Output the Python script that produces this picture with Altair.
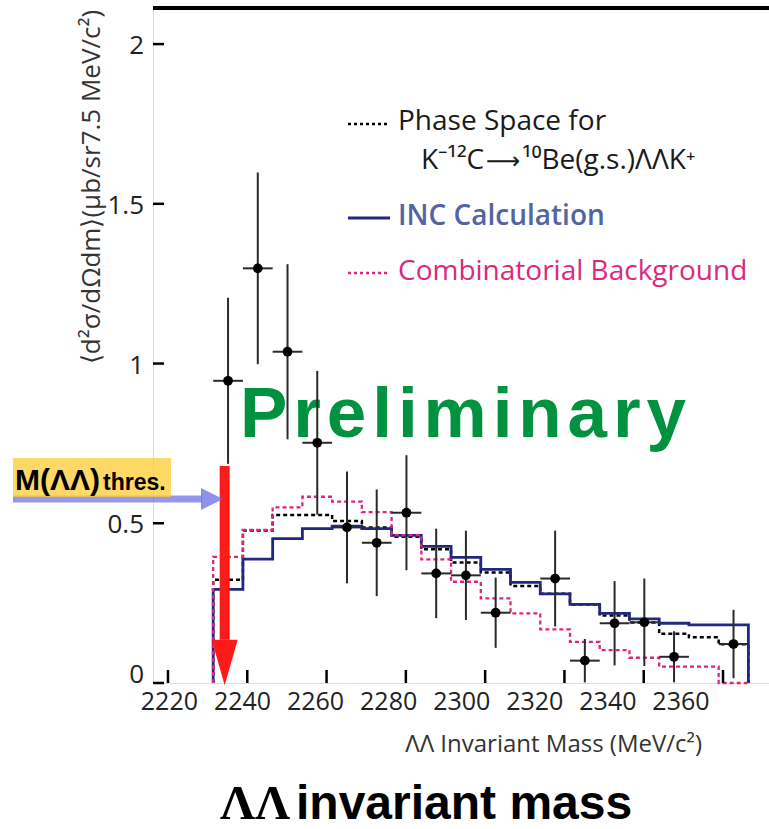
import altair as alt
import pandas as pd

# ---------------- data ----------------
bin_edges = [2231.4, 2238.9, 2246.4, 2253.9, 2261.4, 2268.9, 2276.4, 2283.9, 2291.4,
             2298.9, 2306.4, 2313.9, 2321.4, 2328.9, 2336.4, 2343.9, 2351.4, 2358.9, 2366.4]
inc_calc = [0.293, 0.388, 0.452, 0.483, 0.491, 0.483, 0.462, 0.428, 0.393,
            0.356, 0.315, 0.279, 0.246, 0.218, 0.201, 0.187, 0.182, 0.182]
phase_space = [0.323, 0.477, 0.526, 0.526, 0.507, 0.487, 0.458, 0.419, 0.377,
               0.346, 0.304, 0.279, 0.246, 0.211, 0.189, 0.154, 0.143, 0.121]
comb_bkg = [0.395, 0.479, 0.550, 0.583, 0.568, 0.535, 0.463, 0.387, 0.317,
            0.265, 0.218, 0.168, 0.129, 0.103, 0.079, 0.051, 0.051, 0.0]

pt_mass = [2235.15, 2242.65, 2250.15, 2257.65, 2265.15, 2272.65, 2280.15, 2287.65,
           2295.15, 2302.65, 2317.65, 2325.15, 2332.65, 2340.15, 2347.65, 2362.65]
pt_xsec = [0.946, 1.298, 1.037, 0.752, 0.487, 0.439, 0.533, 0.343,
           0.337, 0.220, 0.327, 0.070, 0.187, 0.190, 0.082, 0.122]
pt_err = [0.26, 0.30, 0.274, 0.225, 0.175, 0.167, 0.18, 0.14,
          0.14, 0.11, 0.15, 0.068, 0.132, 0.137, 0.08, 0.107]
x_half_width = 3.75

x_ticks = [2220, 2240, 2260, 2280, 2300, 2320, 2340, 2360]
y_ticks = [0, 0.5, 1, 1.5, 2]
threshold_mass = 2234.3
arrow_top, arrow_head = 0.679, 0.135

W, H = 616, 675
XS = alt.Scale(domain=[2216.22, 2371.6], nice=False, zero=False)
YS = alt.Scale(domain=[0, 2.113], nice=False, zero=True)
SANS = "Open Sans"


def step_frame(values):
    xs, ys = [bin_edges[0]], [0.0]
    for i, v in enumerate(values):
        xs += [bin_edges[i], bin_edges[i + 1]]
        ys += [v, v]
    xs.append(bin_edges[-1])
    ys.append(0.0)
    return pd.DataFrame({"m": xs, "v": ys, "o": list(range(len(xs)))})


def X(field, **kw):
    return alt.X(field, scale=XS, title=None, **kw)


def Y(field, **kw):
    return alt.Y(field, scale=YS, title=None, **kw)


one = pd.DataFrame({"k": [0]})


def label(text, x, y, size, color="#1a1a1a", font=SANS, weight="normal", align="left",
          baseline="middle", angle=0):
    return alt.Chart(one).mark_text(
        text=text, font=font, fontSize=size, fontWeight=weight, color=color,
        align=align, baseline=baseline, angle=angle).encode(x=alt.value(x), y=alt.value(y))


# ---------------- histograms ----------------
black = alt.Chart(step_frame(phase_space)).mark_line(
    color="black", strokeWidth=2.5, strokeDash=[4, 3]
).encode(
    x=X("m:Q", axis=alt.Axis(labels=False, ticks=False, grid=False, domainWidth=4,
                             domainColor="black")),
    y=Y("v:Q", axis=alt.Axis(labels=False, ticks=False, grid=False,
                             domainWidth=5, domainColor="black")),
    order="o:Q",
)
blue = alt.Chart(step_frame(inc_calc)).mark_line(color="#22287f", strokeWidth=2.8).encode(
    x=X("m:Q", axis=None), y=Y("v:Q", axis=None), order="o:Q")
pink = alt.Chart(step_frame(comb_bkg)).mark_line(
    color="#e0257f", strokeWidth=2.3, strokeDash=[4, 3]).encode(
    x=X("m:Q", axis=None), y=Y("v:Q", axis=None), order="o:Q")

# ---------------- inward ticks, top frame, tick labels ----------------
xt = pd.DataFrame({"tick": x_ticks})
yt = pd.DataFrame({"tick": y_ticks})
xtick_marks = alt.Chart(xt).mark_rule(color="black", strokeWidth=2.5).encode(
    x=X("tick:Q", axis=None), y=alt.value(H), y2=alt.value(H - 13))
ytick_marks = alt.Chart(yt).mark_rule(color="black", strokeWidth=2.5).encode(
    y=Y("tick:Q", axis=None), x=alt.value(0), x2=alt.value(11))
top_frame = alt.Chart(one).mark_rule(color="black", strokeWidth=4).encode(
    x=alt.value(0), x2=alt.value(W), y=alt.value(0))
xlabels = alt.Chart(xt).transform_calculate(
    pos="2238.79 + (datum.tick - 2240) * 0.9217"
).mark_text(font=SANS, fontSize=25, color="#222", align="center", baseline="alphabetic").encode(
    x=X("pos:Q", axis=None), y=alt.value(702), text=alt.Text("tick:Q", format="d"))
ylabels = alt.Chart(yt).transform_calculate(
    pos="datum.tick == 0 ? 0.03 : datum.tick"
).mark_text(
    font=SANS, fontSize=26, color="#222", align="right", baseline="middle", dy=2
).encode(x=alt.value(-9), y=Y("pos:Q", axis=None), text=alt.Text("tick:Q", format="~g"))

# ---------------- titles ----------------
ytitle = label("⟨d²σ/dΩdm⟩(μb/sr7.5 MeV/c²)", -61, 179, 26, color="#333",
               align="center", angle=270)
xtitle = label("ΛΛ Invariant Mass (MeV/c²)", 549, 744, 24, color="#333",
               align="right", baseline="alphabetic")
big1 = label("ΛΛ", 67, 811, 49, color="black", font="Liberation Serif", weight="bold",
             baseline="alphabetic")
big2 = label("invariant mass", 143, 811, 48, color="black", font="Liberation Sans",
             weight="bold", baseline="alphabetic")
prelim = label("P\u200ar\u200ae\u200al\u200ai\u200am\u200ai\u200an\u200aa\u200ar\u200ay",
               87, 429, 71, color="#00923f", font="Liberation Sans", weight="bold",
               baseline="alphabetic")

# ---------------- data points ----------------
pts = pd.DataFrame({"m": pt_mass, "v": pt_xsec, "e": pt_err})
pts_base = alt.Chart(pts).transform_calculate(
    lo="datum.v - datum.e", hi="datum.v + datum.e",
    ml=f"datum.m - {x_half_width}", mh=f"datum.m + {x_half_width}")
vbars = pts_base.mark_rule(color="#2a2a2a", strokeWidth=2).encode(
    x=X("m:Q", axis=None), y=Y("lo:Q", axis=None), y2="hi:Q")
hbars = pts_base.mark_rule(color="#2a2a2a", strokeWidth=2).encode(
    x=X("ml:Q", axis=None), x2="mh:Q", y=Y("v:Q", axis=None))
dots = pts_base.mark_point(filled=True, color="black", opacity=1, size=95, shape="circle").encode(
    x=X("m:Q", axis=None), y=Y("v:Q", axis=None))

# ---------------- legend ----------------
leg_black = alt.Chart(one).mark_rule(color="black", strokeWidth=2.5, strokeDash=[3, 3]).encode(
    x=alt.value(195), x2=alt.value(237), y=alt.value(116))
leg_blue = alt.Chart(one).mark_rule(color="#22287f", strokeWidth=3).encode(
    x=alt.value(195), x2=alt.value(237), y=alt.value(210))
leg_pink = alt.Chart(one).mark_rule(color="#e0257f", strokeWidth=2.3, strokeDash=[3, 3]).encode(
    x=alt.value(195), x2=alt.value(237), y=alt.value(265))
t1 = label("Phase Space for", 245, 114, 28)
t2a = label("K⁻¹²C", 268, 153, 28)
t2b = label("⟶", 333, 154, 24, font="DejaVu Sans")
t2c = label("¹⁰Be(g.s.)ΛΛK⁺", 369, 153, 28)
t3 = label("INC Calculation", 245, 209, 28, color="#5564a0", weight=600)
t4 = label("Combinatorial Background", 245, 264, 28, color="#d92a7f")

# ---------------- threshold arrows & label ----------------
thr = pd.DataFrame({"m": [threshold_mass], "top": [arrow_top], "head": [arrow_head]})
red_shaft = alt.Chart(thr).mark_rule(color="#ff1a1a", strokeWidth=10).encode(
    x=X("m:Q", axis=None), y=Y("top:Q", axis=None), y2="head:Q")
red_head = alt.Chart(thr).mark_point(
    shape="M-1,0L1,0L0,3.5Z", filled=True, color="#ff1a1a", opacity=1, size=676).encode(
    x=X("m:Q", axis=None), y=Y("head:Q", axis=None))
yellow = alt.Chart(one).mark_rect(color="#ffcc33", opacity=0.75).encode(
    x=alt.value(-140), x2=alt.value(18), y=alt.value(450), y2=alt.value(489))
blue_shaft = alt.Chart(one).mark_rule(color="#6a6ae6", strokeWidth=7, opacity=0.7).encode(
    x=alt.value(-140), x2=alt.value(49), y=alt.value(491))
blue_head = alt.Chart(one).mark_point(
    shape="M0,-1L2,0L0,1Z", filled=True, color="#6a6ae6", opacity=0.75, size=484).encode(
    x=alt.value(48), y=alt.value(491))
mlabel = label("M(ΛΛ)", -138, 482, 30, color="black", font="Liberation Sans", weight="bold",
               baseline="alphabetic")
thres = label("thres.", -50, 482, 23, color="black", font="Liberation Sans", weight="bold",
              baseline="alphabetic")

chart = alt.layer(
    black, blue, pink, xtick_marks, ytick_marks, top_frame, xlabels, ylabels,
    ytitle, xtitle, big1, big2, prelim,
    red_shaft, red_head,
    vbars, hbars, dots,
    leg_black, leg_blue, leg_pink, t1, t2a, t2b, t2c, t3, t4,
    blue_shaft, blue_head, yellow, mlabel, thres,
).properties(
    width=W, height=H,
    padding={"left": 153, "top": 8, "right": 0, "bottom": 146},
    autosize=alt.AutoSizeParams(type="none"),
).configure_view(stroke=None).configure(background="white")

chart.save("out.html", embed_options={"renderer": "svg", "actions": False})
